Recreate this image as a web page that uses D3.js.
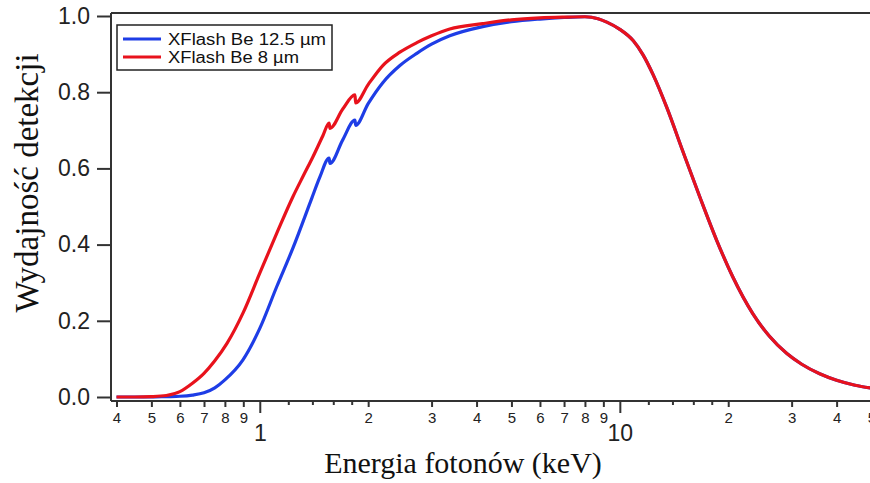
<!DOCTYPE html>
<html>
<head>
<meta charset="utf-8">
<script src="https://cdn.jsdelivr.net/npm/d3@7"></script>
<style>
  body { margin: 0; background: #fff; }
  svg { display: block; }
</style>
</head>
<body>
<script>
// photon energy (keV) and detection efficiency
var energy8 = [0.40, 0.45, 0.50, 0.55, 0.60, 0.65, 0.70, 0.75, 0.81, 0.90, 1.00, 1.115, 1.235, 1.32, 1.404, 1.496, 1.558, 1.566, 1.70, 1.838, 1.846, 2.0, 2.196, 2.45, 2.73, 3.0, 3.37, 4.16, 5.0, 6.0, 7.0, 8.0, 8.7, 9.2, 10.0, 10.9, 11.6, 12.37, 13.5, 14.96, 16.68, 18.6, 20.6, 23.4, 26.0, 29.1, 32.0, 35.9, 40.0, 45.0, 50.0];
var eff8 = [0, 0, 0.001, 0.004, 0.014, 0.036, 0.062, 0.095, 0.14, 0.222, 0.325, 0.43, 0.525, 0.58, 0.63, 0.685, 0.719, 0.705, 0.756, 0.793, 0.772, 0.82, 0.87, 0.905, 0.93, 0.948, 0.966, 0.98, 0.99, 0.995, 0.997, 0.998, 0.993, 0.984, 0.965, 0.935, 0.898, 0.846, 0.76, 0.645, 0.525, 0.41, 0.315, 0.219, 0.16, 0.114, 0.086, 0.061, 0.044, 0.031, 0.023];

var energy125 = [0.40, 0.50, 0.55, 0.60, 0.65, 0.70, 0.75, 0.80, 0.897, 1.00, 1.115, 1.235, 1.395, 1.468, 1.558, 1.566, 1.70, 1.838, 1.846, 2.0, 2.196, 2.45, 2.73, 3.0, 3.37, 4.16, 5.0, 6.0, 7.0, 8.0, 8.7, 9.2, 10.0, 10.9, 11.6, 12.37, 13.5, 14.96, 16.68, 18.6, 20.6, 23.4, 26.0, 29.1, 32.0, 35.9, 40.0, 45.0, 50.0];
var eff125 = [0, 0, 0.001, 0.002, 0.005, 0.011, 0.024, 0.045, 0.097, 0.18, 0.29, 0.39, 0.522, 0.577, 0.627, 0.613, 0.675, 0.727, 0.713, 0.77, 0.825, 0.87, 0.902, 0.926, 0.948, 0.972, 0.985, 0.992, 0.996, 0.998, 0.993, 0.984, 0.965, 0.935, 0.898, 0.846, 0.76, 0.645, 0.525, 0.41, 0.315, 0.219, 0.16, 0.114, 0.086, 0.061, 0.044, 0.031, 0.023];

var seriesNames = ["XFlash Be 12.5 µm", "XFlash Be 8 µm"];
var seriesColors = ["#1e3de6", "#e8121c"];

// tick values
var yTicks = [0, 0.2, 0.4, 0.6, 0.8, 1.0];
var xMajor = [1, 10];
var xMinorLabelled = [0.4, 0.5, 0.6, 0.7, 0.8, 0.9, 2, 3, 4, 5, 6, 7, 8, 9, 20, 30, 40, 50];
var xMinorPlain = [1.2, 1.4, 1.6, 1.8, 12, 14, 16, 18];

//setting svg dimension
var svgWidth = 870;
var svgHeight = 483;

var svg = d3.select("body")
  .append("svg")
  .attr("width", svgWidth)
  .attr("height", svgHeight);

//scales
var x = d3.scaleLog()
  .domain([0.4, 50])
  .range([116.5, 871.5]);

var y = d3.scaleLinear()
  .domain([0, 1])
  .range([397, 16]);

var frameLeft = 111, frameTop = 13, frameBottom = 401;
var axisColor = "#333";
var sans = "Arial, 'Liberation Sans', sans-serif";
var serif = "'Times New Roman', 'Liberation Serif', serif";

//frame top line
svg.append("line")
  .attr("x1", frameLeft).attr("x2", svgWidth)
  .attr("y1", frameTop).attr("y2", frameTop)
  .attr("stroke", axisColor).attr("stroke-width", 2);

//y axis
var yAxis = svg.append("g")
  .attr("transform", `translate(${frameLeft},0)`)
  .call(d3.axisLeft(y).tickValues(yTicks).tickFormat(d3.format(".1f")).tickSize(14).tickPadding(7));
yAxis.select(".domain").attr("d", `M0,${frameTop}V${frameBottom}`)
  .attr("stroke", axisColor).attr("stroke-width", 2);
yAxis.selectAll(".tick line").attr("stroke", axisColor).attr("stroke-width", 2);
yAxis.selectAll(".tick text")
  .attr("fill", "#222")
  .style("font-family", sans)
  .style("font-size", "23px");

//x axis: line + plain minor ticks
var xAxisPlain = svg.append("g")
  .attr("transform", `translate(0,${frameBottom})`)
  .call(d3.axisBottom(x).tickValues(xMinorPlain).tickFormat("").tickSize(4));
xAxisPlain.select(".domain").attr("d", `M${frameLeft},0H${svgWidth}`)
  .attr("stroke", axisColor).attr("stroke-width", 2);
xAxisPlain.selectAll(".tick line").attr("stroke", axisColor).attr("stroke-width", 2);

//x axis: labelled minor ticks
var xAxisMinor = svg.append("g")
  .attr("transform", `translate(0,${frameBottom})`)
  .call(d3.axisBottom(x).tickValues(xMinorLabelled)
    .tickFormat(d => d < 1 ? String(Math.round(d * 10)) : String(d < 10 ? d : d / 10))
    .tickSize(6).tickPadding(5));
xAxisMinor.select(".domain").remove();
xAxisMinor.selectAll(".tick line").attr("stroke", axisColor).attr("stroke-width", 2);
xAxisMinor.selectAll(".tick text")
  .attr("fill", "#222")
  .style("font-family", sans)
  .style("font-size", "15px");

//x axis: major ticks
var xAxisMajor = svg.append("g")
  .attr("transform", `translate(0,${frameBottom})`)
  .call(d3.axisBottom(x).tickValues(xMajor).tickFormat(d3.format("d")).tickSize(12).tickPadding(12));
xAxisMajor.select(".domain").remove();
xAxisMajor.selectAll(".tick line").attr("stroke", axisColor).attr("stroke-width", 2);
xAxisMajor.selectAll(".tick text")
  .attr("fill", "#222")
  .style("font-family", sans)
  .style("font-size", "23px");

//curves
var line = d3.line()
  .x(d => x(d[0]))
  .y(d => y(d[1]))
  .curve(d3.curveMonotoneX);

var series = [
  energy125.map((e, i) => [e, eff125[i]]),
  energy8.map((e, i) => [e, eff8[i]])
];

svg.append("defs").append("clipPath").attr("id", "plotclip")
  .append("rect").attr("x", frameLeft).attr("y", frameTop)
  .attr("width", svgWidth - frameLeft).attr("height", frameBottom - frameTop);

svg.append("g")
  .attr("clip-path", "url(#plotclip)")
  .selectAll("path")
  .data(series)
  .enter()
  .append("path")
  .attr("d", line)
  .attr("fill", "none")
  .attr("stroke", (d, i) => seriesColors[i])
  .attr("stroke-width", 3.2)
  .attr("stroke-linejoin", "round");

//legend
var legend = svg.append("g");
legend.append("rect")
  .attr("x", 117).attr("y", 25)
  .attr("width", 215).attr("height", 45)
  .attr("fill", "#fff")
  .attr("stroke", "#222").attr("stroke-width", 1.5);

var legendWidths = [158, 131];

var legendItems = legend.selectAll("g.item")
  .data(seriesNames)
  .enter()
  .append("g")
  .attr("class", "item")
  .attr("transform", (d, i) => `translate(0,${39 + i * 18})`);

legendItems.append("line")
  .attr("x1", 123).attr("x2", 161)
  .attr("stroke", (d, i) => seriesColors[i])
  .attr("stroke-width", 3);

legendItems.append("text")
  .attr("x", 168)
  .attr("dy", "0.36em")
  .attr("fill", "#111")
  .attr("textLength", (d, i) => legendWidths[i])
  .attr("lengthAdjust", "spacingAndGlyphs")
  .style("font-family", sans)
  .style("font-size", "16px")
  .text(d => d);

//axis titles
svg.append("text")
  .attr("x", 463)
  .attr("y", 473)
  .attr("text-anchor", "middle")
  .attr("fill", "#111")
  .style("font-family", serif)
  .style("font-size", "30px")
  .text("Energia fotonów (keV)");

svg.append("text")
  .attr("transform", "rotate(-90)")
  .attr("x", -183)
  .attr("y", 38)
  .attr("text-anchor", "middle")
  .attr("fill", "#111")
  .style("font-family", serif)
  .style("font-size", "33px")
  .text("Wydajność detekcji");
</script>
</body>
</html>
